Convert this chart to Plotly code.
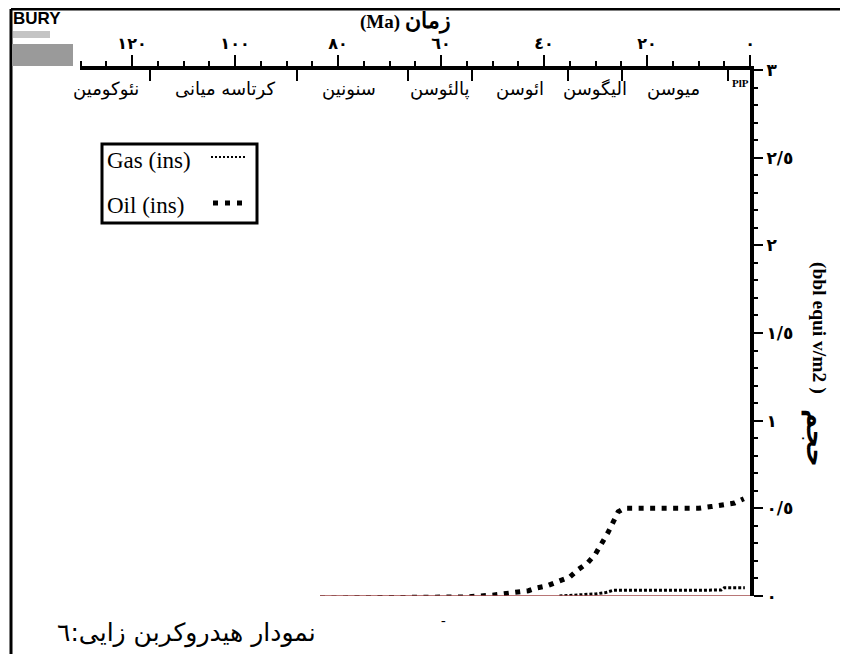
import plotly.graph_objects as go

# ---------------- data ----------------
oil_age = [83.5, 70, 60, 55, 50, 48, 45, 43, 41.5, 39.5, 37.5, 35, 33.5, 31.5, 30, 28.7, 27.6, 26.6, 25.6, 24.5, 20, 15, 10, 7.5, 5, 3, 1.2]
oil_val = [-0.012, -0.012, -0.012, -0.005, 0.005, 0.012, 0.02, 0.03, 0.045, 0.057, 0.08, 0.108, 0.148, 0.19, 0.24, 0.30, 0.36, 0.42, 0.48, 0.50, 0.50, 0.50, 0.50, 0.51, 0.52, 0.53, 0.555]

gas_age = [37, 33, 30, 28, 26.5, 10, 5.6, 5.0, 1.0]
gas_val = [0.0, 0.005, 0.012, 0.02, 0.033, 0.033, 0.034, 0.047, 0.047]

base_age = [83.5, 0]
base_val = [0, 0]

age_ticks = [120, 100, 80, 60, 40, 20, 0]
age_ticklabels = ['١٢٠', '١٠٠', '٨٠', '٦٠', '٤٠', '٢٠', '٠']
age_minor = [a for a in range(0, 131, 5)]

vol_ticks = [0, 0.5, 1, 1.5, 2, 2.5, 3]
vol_ticklabels = ['٠', '٠/٥', '١', '١/٥', '٢', '٢/٥', '٣']
vol_minor = [round(i * 0.1, 1) for i in range(0, 31)]

period_bounds = [116.5, 88, 66.5, 54, 35.3, 24.8, 4.3]
period_names = ['نئوکومین', 'کرتاسه میانی', 'سنونین', 'پالئوسن', 'ائوسن', 'الیگوسن', 'میوسن', 'PlP']
period_mid = [125.1, 102.0, 77.8, 60.1, 44.6, 30.1, 14.9, 1.9]

# ---------------- layout helpers ----------------
OFF = 8  # page body margin
W, H = 840, 646
L, R, T, B = 72, 98, 62, 58
PW, PH = W - L - R, H - T - B


def px(x):  # page pixel x -> paper
    return (x - OFF - L) / PW


def py(y):  # page pixel y -> paper
    return (H - B - (y - OFF)) / PH


XR = [130.1, 0]

fig = go.Figure()

fig.add_trace(go.Scatter(x=oil_age, y=oil_val, mode='lines', name='Oil (ins)',
                         line=dict(color='black', width=5, dash='5px,6.5px'), showlegend=False))
fig.add_trace(go.Scatter(x=gas_age, y=gas_val, mode='lines', name='Gas (ins)',
                         line=dict(color='black', width=3, dash='3px,2px'), showlegend=False))
fig.add_trace(go.Scatter(x=base_age, y=base_val, mode='lines', name='base',
                         line=dict(color='#a04848', width=1.5), showlegend=False))
fig.add_trace(go.Scatter(x=[None], y=[None], xaxis='x2', showlegend=False))

serif = 'Liberation Serif'
arab = 'DejaVu Sans'

fig.update_layout(
    width=W, height=H,
    margin=dict(l=L, r=R, t=T, b=B),
    paper_bgcolor='white', plot_bgcolor='white',
    xaxis=dict(range=XR, side='top', showgrid=False, zeroline=False, automargin=False,
               showline=True, linecolor='black', linewidth=4,
               tickvals=age_ticks, ticktext=['<b>%s</b>' % t for t in age_ticklabels],
               ticks='outside', ticklen=11, tickwidth=2, tickcolor='black',
               tickfont=dict(family=arab, size=16, color='black'),
               minor=dict(tickvals=age_minor, ticks='outside', ticklen=5, tickwidth=2, tickcolor='black')),
    xaxis2=dict(range=XR, overlaying='x', side='top', anchor='y', showgrid=False, zeroline=False,
                showline=False, tickvals=period_bounds, ticks='inside', ticklen=11, tickwidth=2,
                tickcolor='black', showticklabels=False, automargin=False),
    yaxis=dict(range=[0, 3], side='right', showgrid=False, zeroline=False, automargin=False,
               showline=True, linecolor='black', linewidth=4,
               tickvals=vol_ticks, ticktext=['<b>%s</b>' % t for t in vol_ticklabels],
               ticks='outside', ticklen=9, tickwidth=2, tickcolor='black',
               tickfont=dict(family=arab, size=17, color='black'),
               minor=dict(tickvals=vol_minor, ticks='outside', ticklen=4, tickwidth=2, tickcolor='black')),
    showlegend=False,
)

ann = []


def note(x, y, text, size, family, xanchor='center', yanchor='middle', angle=0):
    ann.append(dict(x=px(x), y=py(y), xref='paper', yref='paper', xanchor=xanchor, yanchor=yanchor,
                    text=text, textangle=angle, showarrow=False,
                    font=dict(family=family, size=size, color='black')))


# period names
for name, mid in zip(period_names, period_mid):
    if name == 'PlP':
        ann.append(dict(x=mid, y=1, xref='x', yref='paper', xanchor='center', yanchor='middle', yshift=-13,
                        text='<b>PlP</b>', showarrow=False,
                        font=dict(family=serif, size=11, color='black')))
    else:
        ann.append(dict(x=mid, y=1, xref='x', yref='paper', xanchor='center', yanchor='middle', yshift=-19,
                        text=name, showarrow=False,
                        font=dict(family=arab, size=18, color='black')))

note(405, 21, '<b>(Ma) <span style="font-size:22px">زمان</span></b>', 19, serif)
note(819, 328, '<b>(bbl equi v/m2 )</b>', 19.5, serif, angle=90)
note(816, 438, '<b>حجم</b>', 26, arab, angle=90)
note(105, 160, 'Gas (ins)', 23, serif, xanchor='left')
note(105, 205, 'Oil (ins)', 23, serif, xanchor='left')
note(11, 19, '<b>BURY</b>', 17, 'Liberation Sans Narrow, Liberation Sans', xanchor='left')
note(55, 633, 'نمودار هیدروکربن زایی:٦', 25, arab, xanchor='left')
note(443, 620, '-', 14, serif)

shapes = [
    dict(type='line', xref='paper', yref='paper', x0=px(11), x1=px(11), y0=py(9), y1=py(670),
         line=dict(color='black', width=3)),
    dict(type='line', xref='paper', yref='paper', x0=px(11), x1=px(860), y0=py(9), y1=py(9),
         line=dict(color='black', width=3)),
    dict(type='rect', xref='paper', yref='paper', x0=px(12), x1=px(73), y0=py(44), y1=py(66),
         fillcolor='#9a9a9a', line=dict(width=0)),
    dict(type='rect', xref='paper', yref='paper', x0=px(13), x1=px(50), y0=py(31), y1=py(38),
         fillcolor='#c4c4c4', line=dict(width=0)),
    dict(type='rect', xref='paper', yref='paper', x0=px(102), x1=px(257), y0=py(144), y1=py(223),
         fillcolor='rgba(0,0,0,0)', line=dict(color='black', width=3)),
    dict(type='line', xref='paper', yref='paper', x0=px(211), x1=px(246), y0=py(157), y1=py(157),
         line=dict(color='black', width=2, dash='2px,2px')),
    dict(type='line', xref='paper', yref='paper', x0=px(213), x1=px(245), y0=py(203), y1=py(203),
         line=dict(color='black', width=5, dash='5px,7px')),
]

fig.update_layout(annotations=ann, shapes=shapes)

fig.write_html('out.html')
